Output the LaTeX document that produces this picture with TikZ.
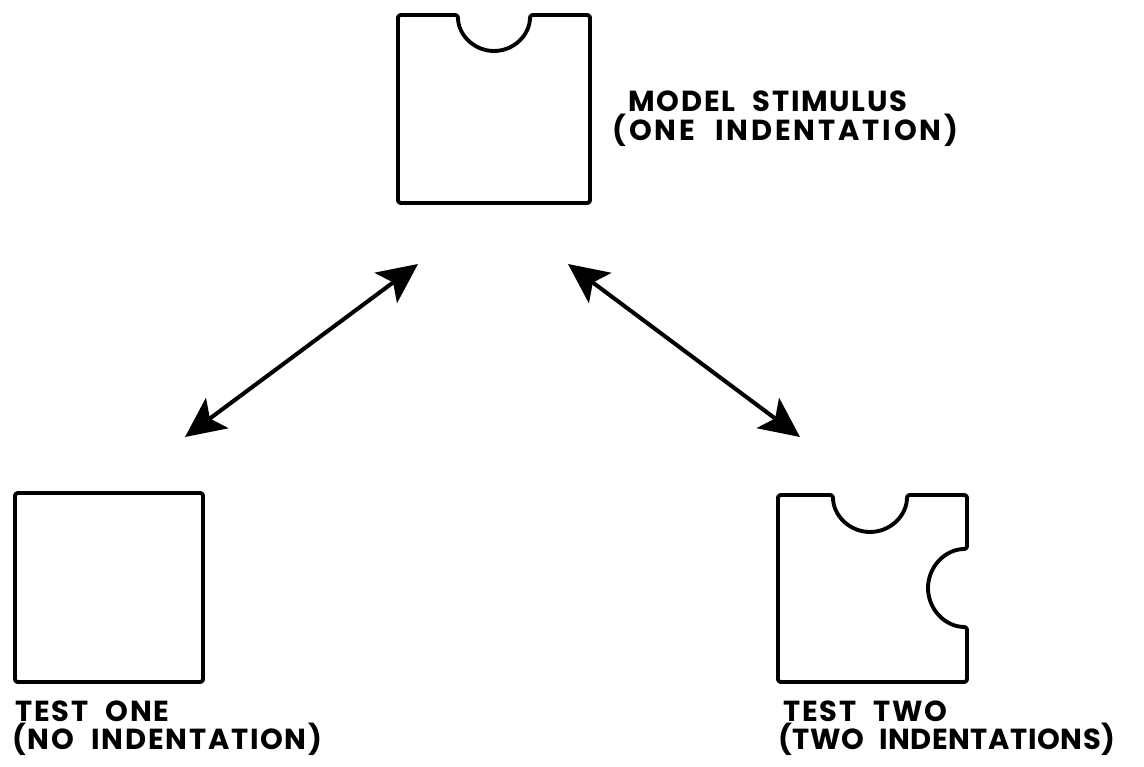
\documentclass[tikz,border=0pt]{standalone}
\usepackage{fontspec}
\newfontfamily\labelfont{Poppins}[LetterSpace=6,WordSpace=2.2]
\usetikzlibrary{arrows.meta}
\begin{document}
\begin{tikzpicture}
[x=0.02cm,y=0.02cm,
outline/.style={draw, line width=2.2pt, rounded corners=1.5pt, line join=round},
link/.style={draw, line width=2.3pt, {Stealth[length=8mm,width=7.5mm,inset=1.8mm]}-{Stealth[length=8mm,width=7.5mm,inset=1.8mm]}},
caption/.style={anchor=base west, inner sep=0pt, font=\labelfont\bfseries\fontsize{16.5}{18}\selectfont}]
\useasboundingbox (0,0) rectangle (1144,767);

% SHAPES
\draw [outline] (398,752) -- (458,752) arc (180:360:36) -- (590,752) -- (590,564) -- (398,564) -- cycle;
\draw [outline] (15,274) -- (203,274) -- (203,85) -- (15,85) -- cycle;
\draw [outline] (778,272) -- (833,272) arc (180:360:37) -- (967,272) -- (967,218)
  arc (90:270:39) -- (967,85) -- (778,85) -- cycle;

% LABELS
\node[caption] (m1) at (628,655) {MODEL STIMULUS};
\node[caption] (m2) at (612,626) {\addfontfeature{LetterSpace=10}(ONE INDENTATION)};
\node[caption] (a1) at (15,45) {TEST ONE};
\node[caption] (a2) at (12,17) {(NO INDENTATION)};
\node[caption] (b1) at (783,45) {TEST TWO};
\node[caption] (b2) at (778,17) {\addfontfeature{LetterSpace=2}(TWO INDENTATIONS)};

% ARROWS
\coordinate (ma) at (418,503);
\coordinate (mb) at (568,503);
\coordinate (ta) at (185,330);
\coordinate (tb) at (800,330);
\draw [link] (ta) -- (ma);
\draw [link] (mb) -- (tb);
\end{tikzpicture}
\end{document}
